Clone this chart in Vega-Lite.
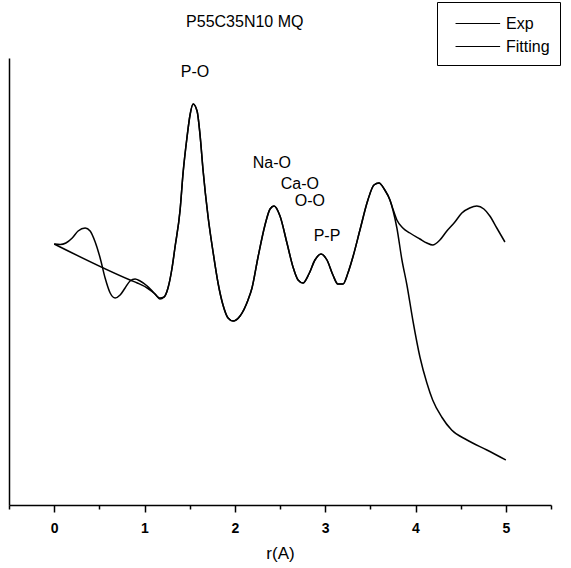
{
  "$schema": "https://vega.github.io/schema/vega-lite/v6.json",
  "autosize": "none",
  "width": 542,
  "height": 447,
  "padding": {"left": 9, "top": 58, "right": 20, "bottom": 63},
  "background": "white",
  "config": {
    "view": {"stroke": null},
    "font": "Liberation Sans",
    "axis": {"domainColor": "black", "domainWidth": 1.5, "tickColor": "black", "labelColor": "black", "titleColor": "black", "grid": false}
  },
  "datasets": {
    "curves": [
      {"s": "Exp", "r": 0.0, "y": 261}, {"s": "Exp", "r": 0.066, "y": 260.5}, {"s": "Exp", "r": 0.13, "y": 262}, {"s": "Exp", "r": 0.2, "y": 267}, {"s": "Exp", "r": 0.265, "y": 274}, {"s": "Exp", "r": 0.343, "y": 277}, {"s": "Exp", "r": 0.398, "y": 274}, {"s": "Exp", "r": 0.454, "y": 263}, {"s": "Exp", "r": 0.509, "y": 247}, {"s": "Exp", "r": 0.564, "y": 227}, {"s": "Exp", "r": 0.62, "y": 212}, {"s": "Exp", "r": 0.675, "y": 207}, {"s": "Exp", "r": 0.73, "y": 210}, {"s": "Exp", "r": 0.785, "y": 217}, {"s": "Exp", "r": 0.84, "y": 224}, {"s": "Exp", "r": 0.896, "y": 226}, {"s": "Exp", "r": 0.951, "y": 224}, {"s": "Exp", "r": 1.03, "y": 219}, {"s": "Exp", "r": 1.095, "y": 213}, {"s": "Exp", "r": 1.17, "y": 207}, {"s": "Exp", "r": 1.217, "y": 208}, {"s": "Exp", "r": 1.26, "y": 217}, {"s": "Exp", "r": 1.305, "y": 237}, {"s": "Exp", "r": 1.338, "y": 258}, {"s": "Exp", "r": 1.394, "y": 295}, {"s": "Exp", "r": 1.427, "y": 332}, {"s": "Exp", "r": 1.471, "y": 368}, {"s": "Exp", "r": 1.504, "y": 390}, {"s": "Exp", "r": 1.538, "y": 401}, {"s": "Exp", "r": 1.582, "y": 394}, {"s": "Exp", "r": 1.615, "y": 370}, {"s": "Exp", "r": 1.648, "y": 335}, {"s": "Exp", "r": 1.704, "y": 288}, {"s": "Exp", "r": 1.759, "y": 253}, {"s": "Exp", "r": 1.814, "y": 222}, {"s": "Exp", "r": 1.869, "y": 200}, {"s": "Exp", "r": 1.925, "y": 187}, {"s": "Exp", "r": 1.98, "y": 184}, {"s": "Exp", "r": 2.058, "y": 189}, {"s": "Exp", "r": 2.146, "y": 205}, {"s": "Exp", "r": 2.19, "y": 217}, {"s": "Exp", "r": 2.257, "y": 248}, {"s": "Exp", "r": 2.334, "y": 280}, {"s": "Exp", "r": 2.39, "y": 296}, {"s": "Exp", "r": 2.434, "y": 299}, {"s": "Exp", "r": 2.5, "y": 289}, {"s": "Exp", "r": 2.577, "y": 262}, {"s": "Exp", "r": 2.644, "y": 238}, {"s": "Exp", "r": 2.7, "y": 225}, {"s": "Exp", "r": 2.754, "y": 222}, {"s": "Exp", "r": 2.82, "y": 231}, {"s": "Exp", "r": 2.887, "y": 245}, {"s": "Exp", "r": 2.954, "y": 251}, {"s": "Exp", "r": 3.02, "y": 245}, {"s": "Exp", "r": 3.086, "y": 230}, {"s": "Exp", "r": 3.14, "y": 221}, {"s": "Exp", "r": 3.197, "y": 221}, {"s": "Exp", "r": 3.252, "y": 232}, {"s": "Exp", "r": 3.307, "y": 248}, {"s": "Exp", "r": 3.385, "y": 275}, {"s": "Exp", "r": 3.473, "y": 305}, {"s": "Exp", "r": 3.54, "y": 320}, {"s": "Exp", "r": 3.595, "y": 322}, {"s": "Exp", "r": 3.66, "y": 315}, {"s": "Exp", "r": 3.717, "y": 305}, {"s": "Exp", "r": 3.75, "y": 296}, {"s": "Exp", "r": 3.794, "y": 285}, {"s": "Exp", "r": 3.86, "y": 277}, {"s": "Exp", "r": 3.938, "y": 272}, {"s": "Exp", "r": 4.049, "y": 266}, {"s": "Exp", "r": 4.126, "y": 262}, {"s": "Exp", "r": 4.19, "y": 260}, {"s": "Exp", "r": 4.27, "y": 265}, {"s": "Exp", "r": 4.347, "y": 274}, {"s": "Exp", "r": 4.436, "y": 283}, {"s": "Exp", "r": 4.513, "y": 292}, {"s": "Exp", "r": 4.6, "y": 297}, {"s": "Exp", "r": 4.679, "y": 299}, {"s": "Exp", "r": 4.757, "y": 296}, {"s": "Exp", "r": 4.823, "y": 289}, {"s": "Exp", "r": 4.9, "y": 277}, {"s": "Exp", "r": 4.99, "y": 263},

      {"s": "Fitting", "r": 0.0, "y": 261}, {"s": "Fitting", "r": 0.84, "y": 225}, {"s": "Fitting", "r": 0.92, "y": 222}, {"s": "Fitting", "r": 1.03, "y": 217}, {"s": "Fitting", "r": 1.117, "y": 211}, {"s": "Fitting", "r": 1.17, "y": 206}, {"s": "Fitting", "r": 1.217, "y": 208}, {"s": "Fitting", "r": 1.26, "y": 217}, {"s": "Fitting", "r": 1.305, "y": 237}, {"s": "Fitting", "r": 1.338, "y": 258}, {"s": "Fitting", "r": 1.394, "y": 295}, {"s": "Fitting", "r": 1.427, "y": 332}, {"s": "Fitting", "r": 1.471, "y": 368}, {"s": "Fitting", "r": 1.504, "y": 390}, {"s": "Fitting", "r": 1.538, "y": 401}, {"s": "Fitting", "r": 1.582, "y": 394}, {"s": "Fitting", "r": 1.615, "y": 370}, {"s": "Fitting", "r": 1.648, "y": 335}, {"s": "Fitting", "r": 1.704, "y": 288}, {"s": "Fitting", "r": 1.759, "y": 253}, {"s": "Fitting", "r": 1.814, "y": 222}, {"s": "Fitting", "r": 1.869, "y": 200}, {"s": "Fitting", "r": 1.925, "y": 187}, {"s": "Fitting", "r": 1.98, "y": 184}, {"s": "Fitting", "r": 2.058, "y": 189}, {"s": "Fitting", "r": 2.146, "y": 205}, {"s": "Fitting", "r": 2.19, "y": 217}, {"s": "Fitting", "r": 2.257, "y": 248}, {"s": "Fitting", "r": 2.334, "y": 280}, {"s": "Fitting", "r": 2.39, "y": 296}, {"s": "Fitting", "r": 2.434, "y": 299}, {"s": "Fitting", "r": 2.5, "y": 289}, {"s": "Fitting", "r": 2.577, "y": 262}, {"s": "Fitting", "r": 2.644, "y": 238}, {"s": "Fitting", "r": 2.7, "y": 225}, {"s": "Fitting", "r": 2.754, "y": 222}, {"s": "Fitting", "r": 2.82, "y": 231}, {"s": "Fitting", "r": 2.887, "y": 245}, {"s": "Fitting", "r": 2.954, "y": 251}, {"s": "Fitting", "r": 3.02, "y": 245}, {"s": "Fitting", "r": 3.086, "y": 230}, {"s": "Fitting", "r": 3.14, "y": 221}, {"s": "Fitting", "r": 3.197, "y": 221}, {"s": "Fitting", "r": 3.252, "y": 232}, {"s": "Fitting", "r": 3.307, "y": 248}, {"s": "Fitting", "r": 3.385, "y": 275}, {"s": "Fitting", "r": 3.473, "y": 305}, {"s": "Fitting", "r": 3.54, "y": 320}, {"s": "Fitting", "r": 3.595, "y": 322}, {"s": "Fitting", "r": 3.66, "y": 315}, {"s": "Fitting", "r": 3.717, "y": 305}, {"s": "Fitting", "r": 3.75, "y": 295}, {"s": "Fitting", "r": 3.794, "y": 277}, {"s": "Fitting", "r": 3.85, "y": 245}, {"s": "Fitting", "r": 3.905, "y": 220}, {"s": "Fitting", "r": 3.97, "y": 185}, {"s": "Fitting", "r": 4.049, "y": 148}, {"s": "Fitting", "r": 4.126, "y": 122}, {"s": "Fitting", "r": 4.19, "y": 105}, {"s": "Fitting", "r": 4.29, "y": 88}, {"s": "Fitting", "r": 4.4, "y": 75}, {"s": "Fitting", "r": 4.57, "y": 65}, {"s": "Fitting", "r": 4.79, "y": 55}, {"s": "Fitting", "r": 5.0, "y": 45}
    ],
    "labels": [
      {"t": "P55C35N10 MQ", "r": 2.11, "y": 483},
      {"t": "P-O", "r": 1.56, "y": 433},
      {"t": "Na-O", "r": 2.41, "y": 342},
      {"t": "Ca-O", "r": 2.72, "y": 321},
      {"t": "O-O", "r": 2.83, "y": 304},
      {"t": "P-P", "r": 3.02, "y": 269}
    ]
  },
  "layer": [
    {
      "data": {"name": "curves"},
      "mark": {"type": "line", "interpolate": "monotone", "strokeWidth": 1.5, "clip": false},
      "encoding": {
        "x": {"field": "r", "type": "quantitative", "scale": {"domain": [-0.5, 5.5], "nice": false, "zero": false},
          "axis": {"title": "r(A)", "titleFontSize": 17, "titleFontWeight": "normal", "titleFont": "Liberation Sans", "titlePadding": 10,
            "values": [-0.5, 0, 0.5, 1, 1.5, 2, 2.5, 3, 3.5, 4, 4.5, 5, 5.5],
            "labelExpr": "datum.value % 1 === 0 ? format(datum.value, 'd') : ''",
            "labelOverlap": false,
            "labelFontSize": 14, "labelFontWeight": "bold", "labelFont": "Liberation Sans", "labelPadding": 9, "labelFlush": false,
            "tickWidth": 1.5, "tickSize": {"condition": {"test": "datum.value % 1 === 0", "value": 7}, "value": 4}}},
        "y": {"field": "y", "type": "quantitative", "scale": {"domain": [0, 447], "nice": false},
          "axis": {"title": null, "labels": false, "ticks": false}},
        "color": {"field": "s", "type": "nominal", "scale": {"domain": ["Exp", "Fitting"], "range": ["black", "black"]},
          "legend": {"title": null, "orient": "none", "legendX": 428, "legendY": -56, "symbolType": "M-0.27,0L3.8,0", "symbolSize": 480, "symbolStrokeWidth": 1,
            "labelFontSize": 16, "labelFont": "Liberation Sans", "labelColor": "black", "strokeColor": "black", "fillColor": "white", "padding": 10, "rowPadding": 3, "labelOffset": 36}},
        "detail": {"field": "s"}
      }
    },
    {
      "data": {"name": "labels"},
      "mark": {"type": "text", "fontSize": 16, "font": "Liberation Sans", "color": "black"},
      "encoding": {
        "x": {"field": "r", "type": "quantitative"},
        "y": {"field": "y", "type": "quantitative"},
        "text": {"field": "t"}
      }
    }
  ]
}
